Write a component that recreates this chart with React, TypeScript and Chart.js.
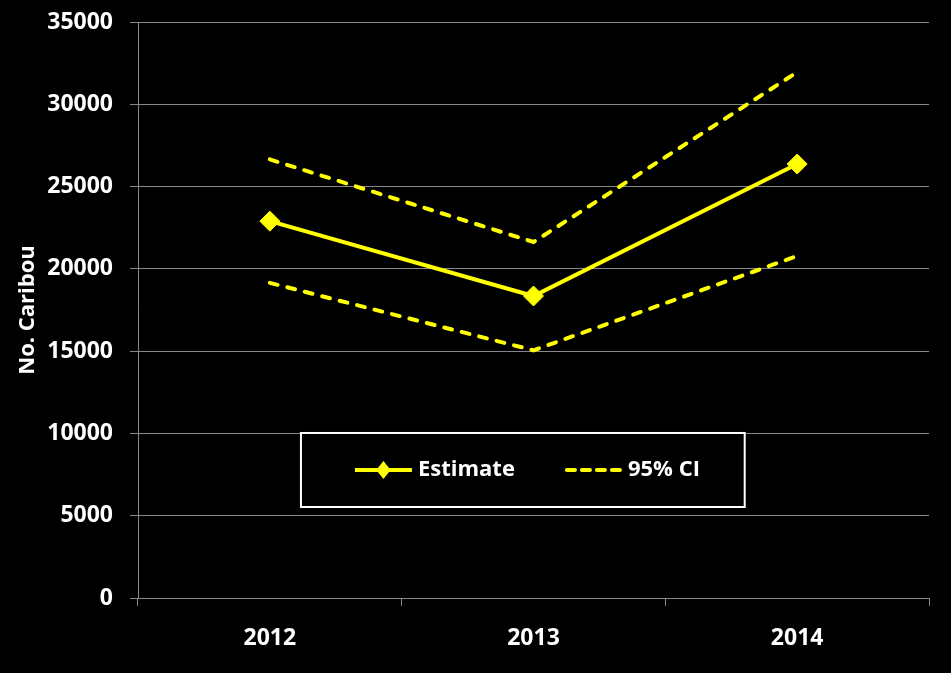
import React, { useEffect, useRef } from "react";
import { Chart, registerables } from "chart.js";

Chart.register(...registerables);

const years = ["2012", "2013", "2014"];
const estimate = [22900, 18350, 26370];
const upperCI = [26650, 21630, 31950];
const lowerCI = [19150, 15050, 20780];
const yMin = 0;
const yMax = 35000;
const yStep = 5000;
const yTitle = "No. Caribou";
const estimateLabel = "Estimate";
const ciLabel = "95% CI";

const YELLOW = "#FFFF00";
const GRID = "#888888";
const FONT_FAMILY = '"Open Sans", "DejaVu Sans", sans-serif';

const legendBoxPlugin = {
  id: "legendBox",
  afterDatasetsDraw(chart: any) {
    const { ctx, chartArea } = chart;
    const w = chartArea.right - chartArea.left;
    const h = chartArea.bottom - chartArea.top;
    const x0 = chartArea.left + w * 0.206;
    const x1 = chartArea.left + w * 0.767;
    const y0 = chartArea.top + h * 0.7135;
    const y1 = chartArea.top + h * 0.842;
    const cy = (y0 + y1) / 2;
    ctx.save();
    ctx.fillStyle = "#000";
    ctx.fillRect(x0, y0, x1 - x0, y1 - y0);
    ctx.strokeStyle = "#ffffff";
    ctx.lineWidth = 2;
    ctx.strokeRect(x0, y0, x1 - x0, y1 - y0);

    const items = chart.data.datasets.filter((d: any) => !d.hideInLegend);
    const starts = [x0 + 54, x0 + 264];
    items.forEach((ds: any, i: number) => {
      const lx = starts[i];
      const lineLen = 57;
      ctx.save();
      ctx.strokeStyle = ds.borderColor;
      ctx.lineWidth = ds.borderWidth;
      ctx.lineCap = ds.borderDash ? "round" : "butt";
      ctx.setLineDash(ds.borderDash ? [8, 7] : []);
      ctx.beginPath();
      ctx.moveTo(lx + (ds.borderDash ? 2 : 0), cy);
      ctx.lineTo(lx + lineLen - (ds.borderDash ? 2 : 0), cy);
      ctx.stroke();
      ctx.restore();
      if (ds.pointStyle === "rectRot" && ds.pointRadius > 0) {
        const r = 9;
        const mx = lx + lineLen / 2;
        ctx.fillStyle = ds.pointBackgroundColor;
        ctx.beginPath();
        ctx.moveTo(mx, cy - r);
        ctx.lineTo(mx + r * 0.8, cy);
        ctx.lineTo(mx, cy + r);
        ctx.lineTo(mx - r * 0.8, cy);
        ctx.closePath();
        ctx.fill();
      }
      ctx.fillStyle = "#ffffff";
      ctx.font = `bold 22px ${FONT_FAMILY}`;
      ctx.textAlign = "left";
      ctx.textBaseline = "middle";
      ctx.fillText(ds.label, lx + lineLen + 6, cy);
    });
    ctx.restore();
  },
};

export default function App() {
  const canvasRef = useRef<HTMLCanvasElement | null>(null);

  useEffect(() => {
    document.body.style.margin = "0";
    document.body.style.background = "#000";
    const canvas = canvasRef.current;
    if (!canvas) return;
    const tickFont = { family: FONT_FAMILY, size: 23, weight: "bold" as const };
    const chart = new Chart(canvas, {
      type: "line",
      data: {
        labels: years,
        datasets: [
          {
            label: estimateLabel,
            data: estimate,
            borderColor: YELLOW,
            backgroundColor: YELLOW,
            borderWidth: 4,
            pointStyle: "rectRot",
            pointRadius: 10,
            pointBackgroundColor: YELLOW,
            pointBorderColor: YELLOW,
            pointBorderWidth: 1,
            tension: 0,
          },
          {
            label: ciLabel,
            data: upperCI,
            borderColor: YELLOW,
            borderWidth: 4,
            borderDash: [8, 10],
            borderCapStyle: "round",
            pointRadius: 0,
            tension: 0,
          },
          {
            label: ciLabel,
            data: lowerCI,
            hideInLegend: true,
            borderColor: YELLOW,
            borderWidth: 4,
            borderDash: [8, 10],
            borderCapStyle: "round",
            pointRadius: 0,
            tension: 0,
          } as any,
        ],
      },
      options: {
        responsive: false,
        animation: false,
        layout: { padding: { top: 22, right: 22, left: 0, bottom: 0 } },
        plugins: {
          legend: { display: false },
          tooltip: { enabled: false },
        },
        scales: {
          x: {
            offset: true,
            grid: {
              offset: true,
              drawOnChartArea: false,
              color: GRID,
              tickLength: 8,
            },
            border: { color: GRID, width: 1 },
            ticks: { color: "#ffffff", font: tickFont, padding: 19 },
            afterFit: (s: any) => {
              s.height = 75;
              s.paddingLeft = 0;
              s.paddingRight = 0;
            },
          },
          y: {
            min: yMin,
            max: yMax,
            ticks: {
              stepSize: yStep,
              color: "#ffffff",
              font: tickFont,
              padding: 17,
              callback: (v: any) => String(v),
            },
            grid: { color: GRID, tickLength: 8 },
            border: { color: GRID, width: 1 },
            title: {
              display: true,
              text: yTitle,
              color: "#ffffff",
              font: { family: FONT_FAMILY, size: 22, weight: "bold" },
              padding: { top: 15, bottom: 0 },
            },
            afterFit: (s: any) => {
              s.width = 138;
              s.paddingTop = 0;
              s.paddingBottom = 0;
            },
          },
        },
      },
      plugins: [legendBoxPlugin],
    });
    return () => chart.destroy();
  }, []);

  return (
    <div style={{ width: 951, height: 673, background: "#000" }}>
      <canvas
        ref={canvasRef}
        width={951}
        height={673}
        style={{ display: "block", width: 951, height: 673 }}
      />
    </div>
  );
}
